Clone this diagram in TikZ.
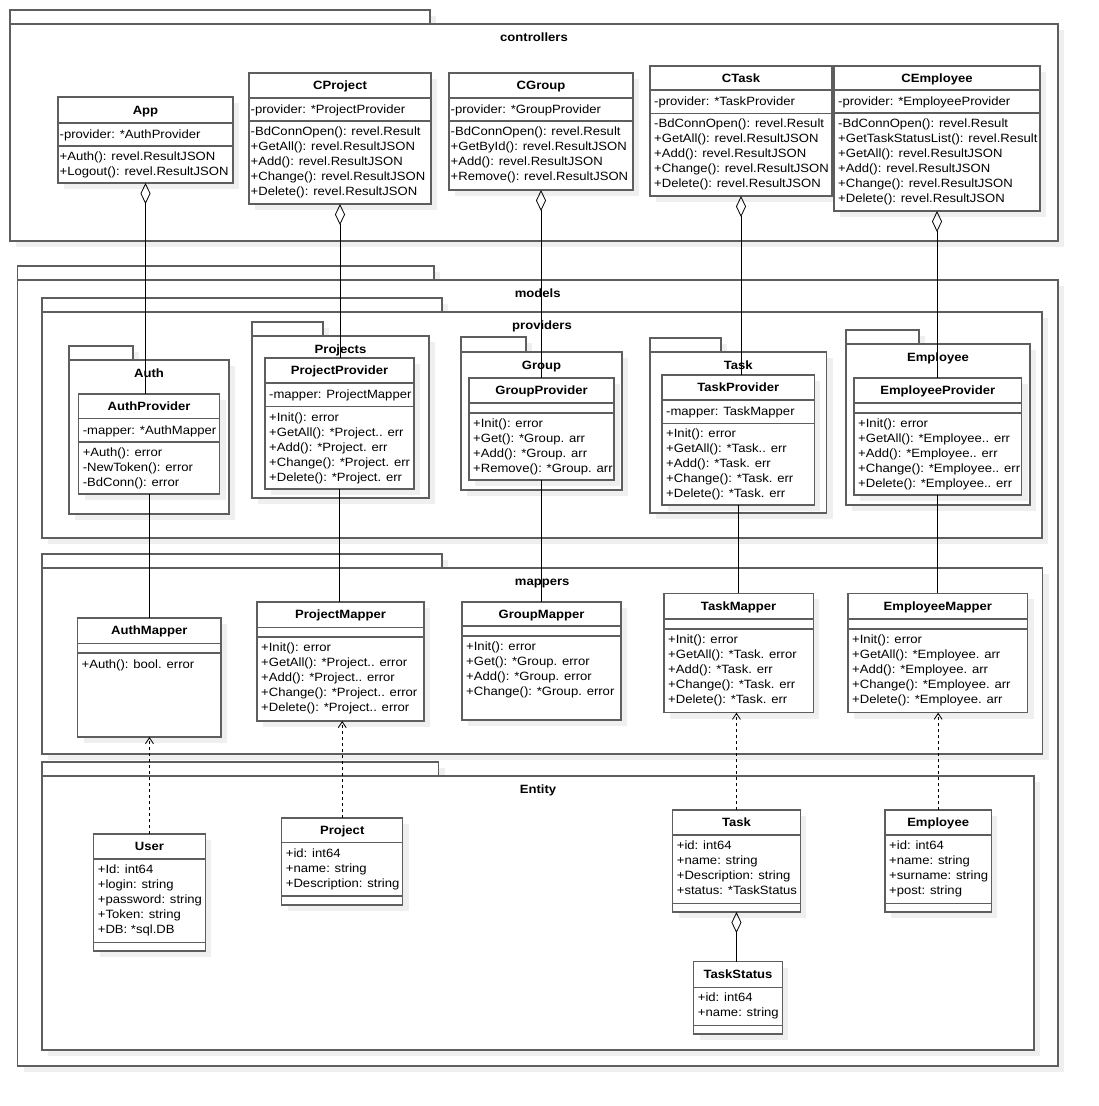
\documentclass[tikz,border=0pt]{standalone}
\usepackage{fontspec}
\setmainfont{Liberation Sans}[FakeStretch=1.09]
\usetikzlibrary{arrows.meta}
\definecolor{boxc}{HTML}{5E5E5E}
\definecolor{shadc}{HTML}{EFEFEF}
\tikzset{
 boxline/.style={draw=boxc, line width=1.3pt},
 clsnode/.style={boxline, fill=white, inner sep=0pt, outer sep=0pt, anchor=north west},
 clstitle/.style={font=\fontsize{12}{15}\selectfont\bfseries, anchor=base, inner sep=0pt},
 clstext/.style={font=\fontsize{12}{15}\selectfont, anchor=north west, align=left, inner sep=0pt, execute at begin node={\rule{0pt}{10pt}}},
 pkgnode/.style={boxline, fill=white, inner sep=0pt, outer sep=0pt, anchor=north west},
 pkglabel/.style={font=\fontsize{12}{15}\selectfont\bfseries, anchor=base, inner sep=0pt},
 conn/.style={draw=black, line width=0.8pt},
 aggr/.style={conn, {Diamond[open,length=21pt,width=10pt]}-},
 dep/.style={conn, dash pattern=on 3pt off 3pt, -{Straight Barb[length=6pt,width=8pt]}},
}
\def\ins{4}
% #1 name, #2 x1, #3 y1, #4 x2, #5 y2, #6 header bottom, #7 attr bottom, #8 title, #9 attributes
\newcommand{\umlcls}[9]{%
 \fill[shadc] (#2+6,#3+6) rectangle (#4+6,#5+6);
 \node[clsnode, minimum width={(#4-#2)*1pt}, minimum height={(#5-#3)*1pt}] (#1) at (#2,#3) {};
 \draw[boxline] (#2,#6) -- (#4,#6) (#2,#7) -- (#4,#7);
 \node[clstitle] (#1-t) at ({(#2+#4)/2},{(#3+#6)/2+4.3}) {#8};
 \node[clstext] (#1-a) at (#2+\ins,#6+5.5) {#9};
 \coordinate (#1-m) at (#2+\ins,#7+5.5);
}
% #1 name, #2 x1, #3 tab top, #4 tab right, #5 body top, #6 x2, #7 y2, #8 label
\newcommand{\pkgbox}[8]{%
 \fill[shadc] (#2+6,#3+6) rectangle (#4+6,#5+6);
 \fill[shadc] (#2+6,#5+6) rectangle (#6+6,#7+6);
 \draw[boxline, fill=white] (#2,#3) rectangle (#4,#5);
 \node[pkgnode, minimum width={(#6-#2)*1pt}, minimum height={(#7-#5)*1pt}] (#1) at (#2,#5) {};
 \node[pkglabel] (#1-lbl) at ({(#2+#6)/2},#5+17.5) {#8};
}
\begin{document}
\begin{tikzpicture}[x=1pt,y=-1pt]
\fill[white] (0,0) rectangle (1098,1106);
\useasboundingbox (0,0) rectangle (1098,1106);

% ---------------- controllers
\pkgbox{controllers}{10}{10}{430}{24}{1058}{241}{controllers}
\def\ins{1.5}
\umlcls{app}{58}{97}{233}{183}{123}{146}{App}{-provider: *AuthProvider}
\node[clstext] (app-ms) at (app-m) {+Auth(): revel.ResultJSON\\+Logout(): revel.ResultJSON};
\umlcls{cproject}{249}{73}{431}{204}{98}{121}{CProject}{-provider: *ProjectProvider}
\node[clstext] (cproject-ms) at (cproject-m) {-BdConnOpen(): revel.Result\\+GetAll(): revel.ResultJSON\\+Add(): revel.ResultJSON\\+Change(): revel.ResultJSON\\+Delete(): revel.ResultJSON};
\umlcls{cgroup}{449}{73}{633}{190}{98}{121}{CGroup}{-provider: *GroupProvider}
\node[clstext] (cgroup-ms) at (cgroup-m) {-BdConnOpen(): revel.Result\\+GetById(): revel.ResultJSON\\+Add(): revel.ResultJSON\\+Remove(): revel.ResultJSON};
\def\ins{4}
\umlcls{ctask}{650}{66}{832}{196}{90}{113.3}{CTask}{-provider: *TaskProvider}
\node[clstext] (ctask-ms) at (ctask-m) {-BdConnOpen(): revel.Result\\+GetAll(): revel.ResultJSON\\+Add(): revel.ResultJSON\\+Change(): revel.ResultJSON\\+Delete(): revel.ResultJSON};
\umlcls{cemployee}{834}{66}{1040}{211}{90}{113}{CEmployee}{-provider: *EmployeeProvider}
\node[clstext] (cemployee-ms) at (cemployee-m) {-BdConnOpen(): revel.Result\\+GetTaskStatusList(): revel.Result\\+GetAll(): revel.ResultJSON\\+Add(): revel.ResultJSON\\+Change(): revel.ResultJSON\\+Delete(): revel.ResultJSON};

% ---------------- models
\pkgbox{models}{17.5}{266}{434}{280}{1058}{1066}{models}
\pkgbox{providers}{42}{298}{442}{312}{1042}{538}{providers}

\pkgbox{pkgauth}{69}{346}{133}{360}{229}{514}{Auth}
\umlcls{authprov}{78.6}{394}{219.6}{494}{418.3}{442}{AuthProvider}{-mapper: *AuthMapper}
\node[clstext] (authprov-ms) at (authprov-m) {+Auth(): error\\-NewToken(): error\\-BdConn(): error};

\pkgbox{pkgprojects}{252}{322}{323}{336}{429}{498}{Projects}
\umlcls{projprov}{265}{358}{414}{489}{383}{406.7}{ProjectProvider}{-mapper: ProjectMapper}
\node[clstext] (projprov-ms) at (projprov-m) {+Init(): error\\+GetAll(): *Project.. err\\+Add(): *Project. err\\+Change(): *Project. err\\+Delete(): *Project. err};

\pkgbox{pkggroup}{461}{337}{526}{352}{622}{490}{Group}
\umlcls{groupprov}{469}{378}{614}{480}{403}{413}{GroupProvider}{}
\node[clstext] (groupprov-ms) at (groupprov-m) {+Init(): error\\+Get(): *Group. arr\\+Add(): *Group. arr\\+Remove(): *Group. arr};

\pkgbox{pkgtask}{650}{338}{721}{352}{826.5}{513}{Task}
\umlcls{taskprov}{662}{375}{814.4}{505}{400}{423.3}{TaskProvider}{-mapper: TaskMapper}
\node[clstext] (taskprov-ms) at (taskprov-m) {+Init(): error\\+GetAll(): *Task.. err\\+Add(): *Task. err\\+Change(): *Task. err\\+Delete(): *Task. err};

\pkgbox{pkgemployee}{846}{330}{919}{344}{1030}{505}{Employee}
\umlcls{empprov}{854}{378}{1021.5}{495}{403}{413}{EmployeeProvider}{}
\node[clstext] (empprov-ms) at (empprov-m) {+Init(): error\\+GetAll(): *Employee.. err\\+Add(): *Employee.. err\\+Change(): *Employee.. err\\+Delete(): *Employee.. err};

% ---------------- mappers
\pkgbox{mappers}{42}{554}{442}{568}{1042.5}{754}{mappers}
\umlcls{authmap}{77.5}{618}{221}{737}{643.3}{653}{AuthMapper}{}
\node[clstext] (authmap-ms) at (authmap-m) {+Auth(): bool. error};
\umlcls{projmap}{257}{602}{424}{721}{627.3}{637}{ProjectMapper}{}
\node[clstext] (projmap-ms) at (projmap-m) {+Init(): error\\+GetAll(): *Project.. error\\+Add(): *Project.. error\\+Change(): *Project.. error\\+Delete(): *Project.. error};
\umlcls{groupmap}{462}{602}{621}{720}{626}{636}{GroupMapper}{}
\node[clstext] (groupmap-ms) at (groupmap-m) {+Init(): error\\+Get(): *Group. error\\+Add(): *Group. error\\+Change(): *Group. error};
\umlcls{taskmap}{664}{593.3}{813.3}{712.7}{619}{629}{TaskMapper}{}
\node[clstext] (taskmap-ms) at (taskmap-m) {+Init(): error\\+GetAll(): *Task. error\\+Add(): *Task. err\\+Change(): *Task. err\\+Delete(): *Task. err};
\umlcls{empmap}{848}{593.3}{1027.6}{712.7}{619}{629}{EmployeeMapper}{}
\node[clstext] (empmap-ms) at (empmap-m) {+Init(): error\\+GetAll(): *Employee. arr\\+Add(): *Employee. arr\\+Change(): *Employee. arr\\+Delete(): *Employee. arr};

% ---------------- Entity
\pkgbox{entity}{42}{762}{438.5}{776}{1034}{1050}{Entity}
\umlcls{user}{93.7}{834}{205.2}{951}{859}{942.3}{User}{+Id: int64\\+login: string\\+password: string\\+Token: string\\+DB: *sql.DB}
\umlcls{project}{281.7}{818}{402.7}{905}{842.7}{896}{Project}{+id: int64\\+name: string\\+Description: string}
\umlcls{task}{672.7}{810}{800.2}{912}{835}{903.3}{Task}{+id: int64\\+name: string\\+Description: string\\+status: *TaskStatus}
\umlcls{employee}{885}{810}{991.3}{912}{835}{903.3}{Employee}{+id: int64\\+name: string\\+surname: string\\+post: string}
\umlcls{taskstatus}{693.7}{961.7}{782.4}{1034}{987.3}{1025.7}{TaskStatus}{+id: int64\\+name: string}

% ---------------- connectors
\draw[aggr] (app.south) -- (app.south |- authprov.north);
\draw[conn] (authprov.south) -- (authprov.south |- authmap.north);
\draw[aggr] (cproject.south) -- (cproject.south |- projprov.north);
\draw[conn] (projprov.south) -- (projprov.south |- projmap.north);
\draw[aggr] (cgroup.south) -- (cgroup.south |- groupprov.north);
\draw[conn] (groupprov.south) -- (groupprov.south |- groupmap.north);
\draw[aggr] (ctask.south) -- (ctask.south |- taskprov.north);
\draw[conn] (taskprov.south) -- (taskprov.south |- taskmap.north);
\draw[aggr] (cemployee.south) -- (cemployee.south |- empprov.north);
\draw[conn] (empprov.south) -- (empprov.south |- empmap.north);
\draw[dep] (user.north) -- (user.north |- authmap.south);
\draw[dep] (project.north) -- (project.north |- projmap.south);
\draw[dep] (task.north) -- (task.north |- taskmap.south);
\draw[dep] (employee.north) -- (employee.north |- empmap.south);
\draw[aggr] (task.south) -- (task.south |- taskstatus.north);
\end{tikzpicture}
\end{document}
